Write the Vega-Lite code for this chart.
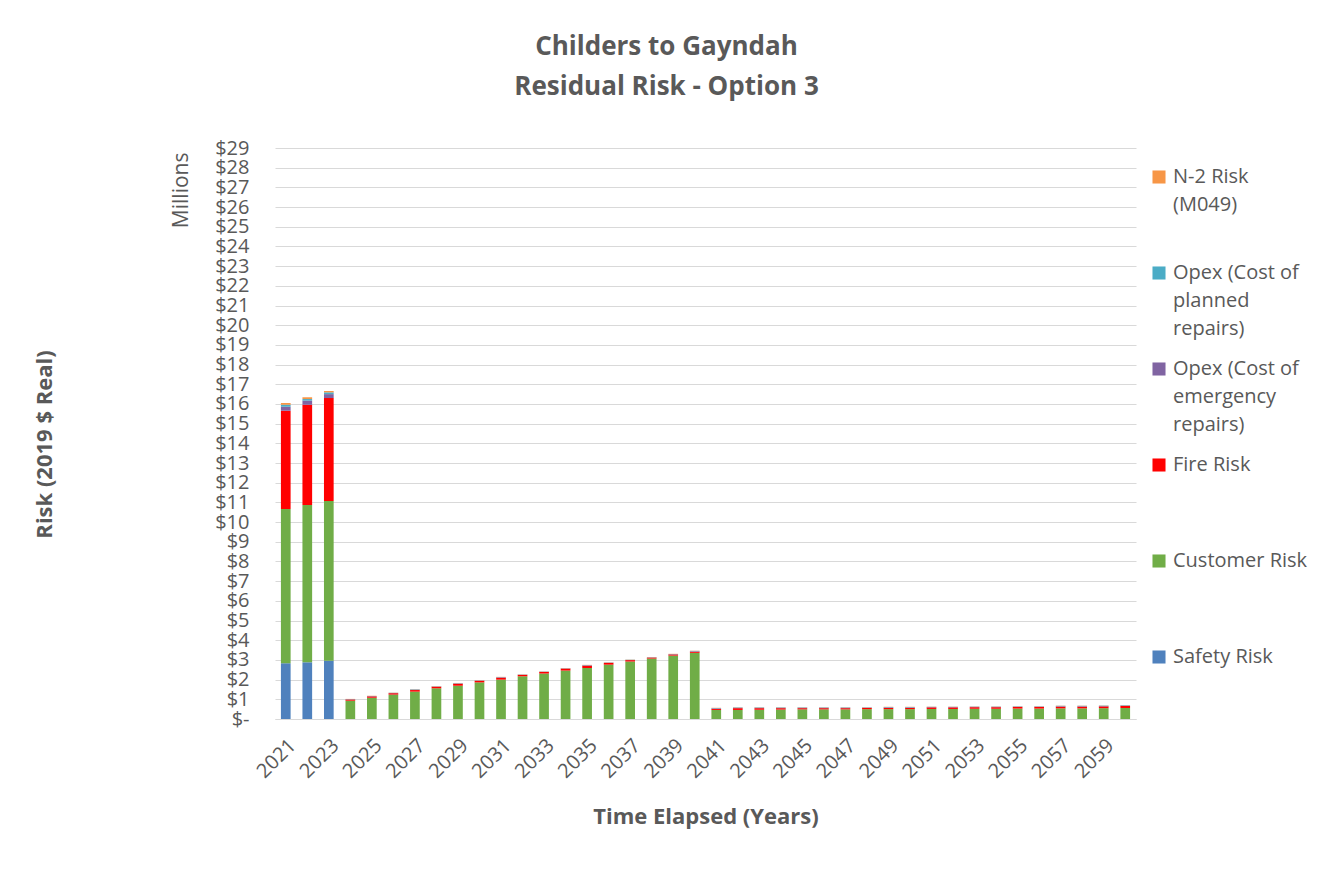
{
  "$schema": "https://vega.github.io/schema/vega-lite/v6.json",
  "width": 861,
  "height": 571,
  "padding": {"left": 33, "top": 34, "right": 5, "bottom": 5},
  "background": "white",
  "title": {
    "text": ["Childers to Gayndah", "Residual Risk - Option 3"],
    "font": "Open Sans", "fontSize": 26, "fontWeight": "bold", "color": "#595959",
    "lineHeight": 40, "anchor": "middle", "dx": -39, "offset": 38
  },
  "data": {"values": [
    {"year": 2021, "Safety Risk": 2.83, "Customer Risk": 7.83, "Fire Risk": 5.0, "Opex (Cost of emergency repairs)": 0.2, "Opex (Cost of planned repairs)": 0.1, "N-2 Risk (M049)": 0.09},
    {"year": 2022, "Safety Risk": 2.88, "Customer Risk": 7.99, "Fire Risk": 5.09, "Opex (Cost of emergency repairs)": 0.21, "Opex (Cost of planned repairs)": 0.08, "N-2 Risk (M049)": 0.09},
    {"year": 2023, "Safety Risk": 2.96, "Customer Risk": 8.11, "Fire Risk": 5.23, "Opex (Cost of emergency repairs)": 0.2, "Opex (Cost of planned repairs)": 0.09, "N-2 Risk (M049)": 0.07},
    {"year": 2024, "Safety Risk": 0, "Customer Risk": 0.93, "Fire Risk": 0.06, "Opex (Cost of emergency repairs)": 0.01, "Opex (Cost of planned repairs)": 0.01, "N-2 Risk (M049)": 0.01},
    {"year": 2025, "Safety Risk": 0, "Customer Risk": 1.08, "Fire Risk": 0.07, "Opex (Cost of emergency repairs)": 0.01, "Opex (Cost of planned repairs)": 0.01, "N-2 Risk (M049)": 0.01},
    {"year": 2026, "Safety Risk": 0, "Customer Risk": 1.24, "Fire Risk": 0.07, "Opex (Cost of emergency repairs)": 0.01, "Opex (Cost of planned repairs)": 0.01, "N-2 Risk (M049)": 0.01},
    {"year": 2027, "Safety Risk": 0, "Customer Risk": 1.39, "Fire Risk": 0.08, "Opex (Cost of emergency repairs)": 0.02, "Opex (Cost of planned repairs)": 0.02, "N-2 Risk (M049)": 0.01},
    {"year": 2028, "Safety Risk": 0, "Customer Risk": 1.56, "Fire Risk": 0.08, "Opex (Cost of emergency repairs)": 0.01, "Opex (Cost of planned repairs)": 0.01, "N-2 Risk (M049)": 0.01},
    {"year": 2029, "Safety Risk": 0, "Customer Risk": 1.69, "Fire Risk": 0.1, "Opex (Cost of emergency repairs)": 0.02, "Opex (Cost of planned repairs)": 0.01, "N-2 Risk (M049)": 0.01},
    {"year": 2030, "Safety Risk": 0, "Customer Risk": 1.86, "Fire Risk": 0.08, "Opex (Cost of emergency repairs)": 0.01, "Opex (Cost of planned repairs)": 0.01, "N-2 Risk (M049)": 0.01},
    {"year": 2031, "Safety Risk": 0, "Customer Risk": 2.0, "Fire Risk": 0.1, "Opex (Cost of emergency repairs)": 0.02, "Opex (Cost of planned repairs)": 0.01, "N-2 Risk (M049)": 0.01},
    {"year": 2032, "Safety Risk": 0, "Customer Risk": 2.17, "Fire Risk": 0.07, "Opex (Cost of emergency repairs)": 0.01, "Opex (Cost of planned repairs)": 0.01, "N-2 Risk (M049)": 0.01},
    {"year": 2033, "Safety Risk": 0, "Customer Risk": 2.31, "Fire Risk": 0.08, "Opex (Cost of emergency repairs)": 0.01, "Opex (Cost of planned repairs)": 0.01, "N-2 Risk (M049)": 0.01},
    {"year": 2034, "Safety Risk": 0, "Customer Risk": 2.46, "Fire Risk": 0.1, "Opex (Cost of emergency repairs)": 0.01, "Opex (Cost of planned repairs)": 0.01, "N-2 Risk (M049)": 0.01},
    {"year": 2035, "Safety Risk": 0, "Customer Risk": 2.59, "Fire Risk": 0.12, "Opex (Cost of emergency repairs)": 0.02, "Opex (Cost of planned repairs)": 0.01, "N-2 Risk (M049)": 0.01},
    {"year": 2036, "Safety Risk": 0, "Customer Risk": 2.76, "Fire Risk": 0.09, "Opex (Cost of emergency repairs)": 0.01, "Opex (Cost of planned repairs)": 0.01, "N-2 Risk (M049)": 0.01},
    {"year": 2037, "Safety Risk": 0, "Customer Risk": 2.92, "Fire Risk": 0.07, "Opex (Cost of emergency repairs)": 0.01, "Opex (Cost of planned repairs)": 0.01, "N-2 Risk (M049)": 0.01},
    {"year": 2038, "Safety Risk": 0, "Customer Risk": 3.07, "Fire Risk": 0.05, "Opex (Cost of emergency repairs)": 0.01, "Opex (Cost of planned repairs)": 0.01, "N-2 Risk (M049)": 0.01},
    {"year": 2039, "Safety Risk": 0, "Customer Risk": 3.22, "Fire Risk": 0.06, "Opex (Cost of emergency repairs)": 0.01, "Opex (Cost of planned repairs)": 0.01, "N-2 Risk (M049)": 0.01},
    {"year": 2040, "Safety Risk": 0, "Customer Risk": 3.36, "Fire Risk": 0.06, "Opex (Cost of emergency repairs)": 0.02, "Opex (Cost of planned repairs)": 0.02, "N-2 Risk (M049)": 0.01},
    {"year": 2041, "Safety Risk": 0, "Customer Risk": 0.46, "Fire Risk": 0.06, "Opex (Cost of emergency repairs)": 0.02, "Opex (Cost of planned repairs)": 0.02, "N-2 Risk (M049)": 0.01},
    {"year": 2042, "Safety Risk": 0, "Customer Risk": 0.46, "Fire Risk": 0.09, "Opex (Cost of emergency repairs)": 0.02, "Opex (Cost of planned repairs)": 0.02, "N-2 Risk (M049)": 0.01},
    {"year": 2043, "Safety Risk": 0, "Customer Risk": 0.47, "Fire Risk": 0.08, "Opex (Cost of emergency repairs)": 0.02, "Opex (Cost of planned repairs)": 0.02, "N-2 Risk (M049)": 0.01},
    {"year": 2044, "Safety Risk": 0, "Customer Risk": 0.48, "Fire Risk": 0.07, "Opex (Cost of emergency repairs)": 0.02, "Opex (Cost of planned repairs)": 0.02, "N-2 Risk (M049)": 0.01},
    {"year": 2045, "Safety Risk": 0, "Customer Risk": 0.49, "Fire Risk": 0.06, "Opex (Cost of emergency repairs)": 0.02, "Opex (Cost of planned repairs)": 0.02, "N-2 Risk (M049)": 0.01},
    {"year": 2046, "Safety Risk": 0, "Customer Risk": 0.49, "Fire Risk": 0.06, "Opex (Cost of emergency repairs)": 0.02, "Opex (Cost of planned repairs)": 0.02, "N-2 Risk (M049)": 0.01},
    {"year": 2047, "Safety Risk": 0, "Customer Risk": 0.49, "Fire Risk": 0.06, "Opex (Cost of emergency repairs)": 0.02, "Opex (Cost of planned repairs)": 0.02, "N-2 Risk (M049)": 0.01},
    {"year": 2048, "Safety Risk": 0, "Customer Risk": 0.5, "Fire Risk": 0.06, "Opex (Cost of emergency repairs)": 0.02, "Opex (Cost of planned repairs)": 0.01, "N-2 Risk (M049)": 0.01},
    {"year": 2049, "Safety Risk": 0, "Customer Risk": 0.5, "Fire Risk": 0.07, "Opex (Cost of emergency repairs)": 0.02, "Opex (Cost of planned repairs)": 0.02, "N-2 Risk (M049)": 0.01},
    {"year": 2050, "Safety Risk": 0, "Customer Risk": 0.5, "Fire Risk": 0.07, "Opex (Cost of emergency repairs)": 0.02, "Opex (Cost of planned repairs)": 0.02, "N-2 Risk (M049)": 0.01},
    {"year": 2051, "Safety Risk": 0, "Customer Risk": 0.51, "Fire Risk": 0.08, "Opex (Cost of emergency repairs)": 0.02, "Opex (Cost of planned repairs)": 0.01, "N-2 Risk (M049)": 0.01},
    {"year": 2052, "Safety Risk": 0, "Customer Risk": 0.51, "Fire Risk": 0.08, "Opex (Cost of emergency repairs)": 0.02, "Opex (Cost of planned repairs)": 0.01, "N-2 Risk (M049)": 0.01},
    {"year": 2053, "Safety Risk": 0, "Customer Risk": 0.52, "Fire Risk": 0.08, "Opex (Cost of emergency repairs)": 0.02, "Opex (Cost of planned repairs)": 0.01, "N-2 Risk (M049)": 0.01},
    {"year": 2054, "Safety Risk": 0, "Customer Risk": 0.52, "Fire Risk": 0.08, "Opex (Cost of emergency repairs)": 0.02, "Opex (Cost of planned repairs)": 0.01, "N-2 Risk (M049)": 0.01},
    {"year": 2055, "Safety Risk": 0, "Customer Risk": 0.53, "Fire Risk": 0.08, "Opex (Cost of emergency repairs)": 0.02, "Opex (Cost of planned repairs)": 0.01, "N-2 Risk (M049)": 0.01},
    {"year": 2056, "Safety Risk": 0, "Customer Risk": 0.53, "Fire Risk": 0.08, "Opex (Cost of emergency repairs)": 0.02, "Opex (Cost of planned repairs)": 0.01, "N-2 Risk (M049)": 0.01},
    {"year": 2057, "Safety Risk": 0, "Customer Risk": 0.54, "Fire Risk": 0.09, "Opex (Cost of emergency repairs)": 0.02, "Opex (Cost of planned repairs)": 0.02, "N-2 Risk (M049)": 0.01},
    {"year": 2058, "Safety Risk": 0, "Customer Risk": 0.54, "Fire Risk": 0.09, "Opex (Cost of emergency repairs)": 0.02, "Opex (Cost of planned repairs)": 0.02, "N-2 Risk (M049)": 0.01},
    {"year": 2059, "Safety Risk": 0, "Customer Risk": 0.55, "Fire Risk": 0.09, "Opex (Cost of emergency repairs)": 0.02, "Opex (Cost of planned repairs)": 0.02, "N-2 Risk (M049)": 0.01},
    {"year": 2060, "Safety Risk": 0, "Customer Risk": 0.56, "Fire Risk": 0.1, "Opex (Cost of emergency repairs)": 0.02, "Opex (Cost of planned repairs)": 0.02, "N-2 Risk (M049)": 0.01}
  ]},
  "transform": [
    {"fold": ["Safety Risk", "Customer Risk", "Fire Risk", "Opex (Cost of emergency repairs)", "Opex (Cost of planned repairs)", "N-2 Risk (M049)"], "as": ["series", "value"]},
    {"calculate": "indexof(['Safety Risk', 'Customer Risk', 'Fire Risk', 'Opex (Cost of emergency repairs)', 'Opex (Cost of planned repairs)', 'N-2 Risk (M049)'], datum.series)", "as": "stackOrder"}
  ],
  "encoding": {
    "x": {
      "field": "year", "type": "ordinal",
      "scale": {"paddingInner": 0.55, "paddingOuter": 0.275},
      "axis": {
        "labelAngle": -45, "labelFontSize": 20, "labelColor": "#595959", "labelFont": "Open Sans",
        "labelExpr": "datum.value % 2 == 1 ? datum.label : ''", "labelOverlap": false,
        "ticks": false, "domain": true, "domainColor": "#d9d9d9", "labelPadding": 16,
        "title": "Time Elapsed (Years)", "titleFont": "Open Sans", "titleFontSize": 22, "titleFontWeight": "bold", "titleColor": "#595959", "titlePadding": 25
      }
    },
    "order": {"field": "stackOrder", "type": "quantitative"},
    "detail": {"field": "series"}
  },
  "layer": [
    {
      "mark": {"type": "bar"},
      "encoding": {
        "y": {
          "field": "value", "type": "quantitative", "stack": "zero",
          "scale": {"domain": [0, 29], "nice": false},
          "axis": {
            "values": [0,1,2,3,4,5,6,7,8,9,10,11,12,13,14,15,16,17,18,19,20,21,22,23,24,25,26,27,28,29],
            "labelExpr": "datum.value == 0 ? '$-  ' : '$' + datum.value", "labelOverlap": false,
            "labelFont": "Open Sans", "labelFontSize": 20, "labelColor": "#595959", "labelPadding": 26,
            "ticks": false, "domain": false, "grid": true, "gridColor": "#d9d9d9", "gridWidth": 1,
            "title": "Millions", "titleAnchor": "end", "titleY": 4, "titleFont": "Open Sans", "titleFontSize": 21, "titleFontWeight": "normal", "titleColor": "#595959", "titlePadding": 23
          }
        },
        "color": {
          "field": "series", "type": "nominal",
          "scale": {
            "domain": ["N-2 Risk (M049)", "Opex (Cost of planned repairs)", "Opex (Cost of emergency repairs)", "Fire Risk", "Customer Risk", "Safety Risk"],
            "range": ["#F79646", "#4BACC6", "#8064A2", "#FF0000", "#70AD47", "#4F81BD"]
          },
          "legend": {
            "title": null, "orient": "none", "legendX": 874, "legendY": 19,
            "symbolType": "square", "symbolSize": 170, "symbolStrokeWidth": 0,
            "labelFont": "Open Sans", "labelFontSize": 20, "labelColor": "#595959", "labelLimit": 200,
            "gridAlign": "all", "rowPadding": 20, "labelBaseline": "middle",
            "labelExpr": "datum.label == 'N-2 Risk (M049)' ? ['N-2 Risk', '(M049)'] : datum.label == 'Opex (Cost of planned repairs)' ? ['Opex (Cost of', 'planned', 'repairs)'] : datum.label == 'Opex (Cost of emergency repairs)' ? ['Opex (Cost of', 'emergency', 'repairs)'] : datum.label"
          }
        }
      }
    },
    {
      "mark": {"type": "bar", "opacity": 0},
      "encoding": {
        "y": {
          "field": "value", "type": "quantitative", "stack": "zero",
          "axis": {
            "orient": "left",
            "labels": false, "ticks": false, "domain": false, "grid": false,
            "title": "Risk (2019 $ Real)", "titleY": 296, "titleFont": "Open Sans", "titleFontSize": 22, "titleFontWeight": "bold", "titleColor": "#595959", "titlePadding": 219
          }
        }
      }
    }
  ],
  "resolve": {"axis": {"y": "independent"}},
  "config": {
    "view": {"stroke": null},
    "style": {"guide-label": {"lineHeight": 28}}
  }
}
